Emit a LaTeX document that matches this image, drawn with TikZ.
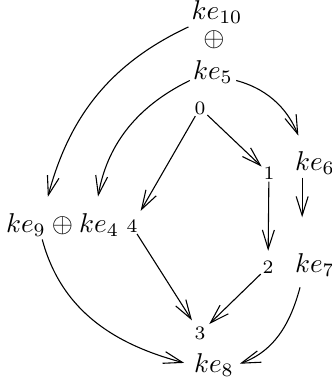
\documentclass[tikz,border=0pt]{standalone}
\usepackage{amsmath,amssymb}
\usetikzlibrary{arrows.meta}

\begin{document}
\begin{tikzpicture}[
    fleche/.style={-{Straight Barb[length=7pt,width=4.4pt]}},
    nb/.style={font=\scriptsize, inner sep=0.5pt},
    mod/.style={inner sep=1pt}]
    \useasboundingbox (0,0) rectangle (4.277,4.923);
    % sommets
    \node[mod] (ke10) at (2.804,4.765) {$ke_{10}$};
    \node[mod] (plus) at (2.765,4.412) {$\oplus$};
    \node[mod] (ke5) at (2.752,3.992) {$ke_5$};
    \node[nb] (n0) at (2.584,3.527) {$0$};
    \node[nb] (n1) at (3.475,2.681) {$1$};
    \node[mod] (ke6) at (4.070,2.817) {$ke_6$};
    \node[mod] (somme) at (0.808,2.019) {$ke_9\oplus ke_4$};
    \node[nb] (n4) at (1.705,2.003) {$4$};
    \node[nb] (n2) at (3.463,1.473) {$2$};
    \node[mod] (ke7) at (4.070,1.503) {$ke_7$};
    \node[nb] (n3) at (2.584,0.620) {$3$};
    \node[mod] (ke8) at (2.765,0.211) {$ke_8$};
    % flèches
    \begin{scope}[fleche]
    \draw (n0) -- (n1);
    \draw[shorten >=3pt] (n0) -- (n4);
    \draw[shorten >=3pt] (n1) -- (n2);
    \draw[shorten >=2pt] (n4) -- (n3);
    \draw[shorten >=1pt] (n2) -- (n3);
    \draw[shorten >=5pt] (ke10.south west) to[out=205,in=75] (somme.141);
    \draw[shorten >=5pt] (ke5.200) to[out=206,in=80] (somme.24);
    \draw[shorten >=5pt] (ke5.340) to[out=345,in=112] (ke6.128);
    \draw[shorten >=12pt] (ke6.229) -- (ke7.131);
    \draw[shorten <=3pt,shorten >=1pt] (ke7.229) to[out=255,in=20] (ke8.east);
    \draw[shorten >=2.5pt] (somme.216) to[out=285,in=165] (ke8.west);
    \end{scope}
\end{tikzpicture}
\end{document}
